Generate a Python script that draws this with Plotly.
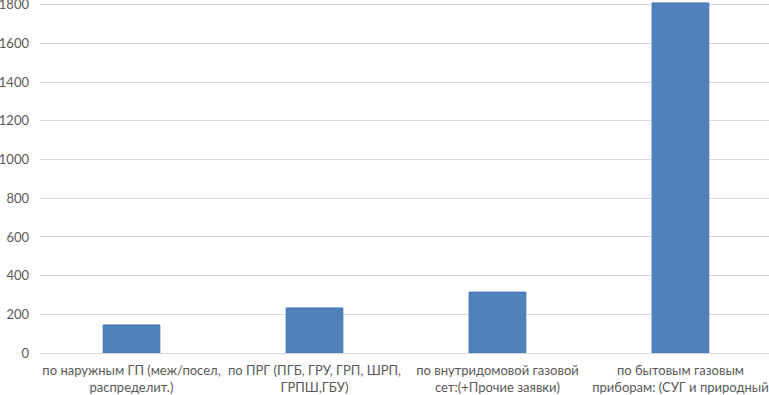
import plotly.graph_objects as go

categories = [
    "по наружным ГП (меж/посел,<br>распределит.)",
    "по ПРГ (ПГБ, ГРУ, ГРП, ШРП,<br>ГРПШ,ГБУ)",
    "по внутридомовой газовой<br>сет:(+Прочие заявки)",
    "по бытовым газовым<br>приборам: (СУГ и природный",
]
values = [145, 233, 315, 1810]
y_ticks = [0, 200, 400, 600, 800, 1000, 1200, 1400, 1600, 1800]

fig = go.Figure(
    go.Bar(
        x=list(range(len(categories))),
        y=values,
        width=0.31,
        marker=dict(color="#4f81bd", line=dict(color="#4676b0", width=1)),
        cliponaxis=False,
    )
)

fig.update_layout(
    width=769,
    height=395,
    margin=dict(l=40, r=0, t=1, b=42),
    paper_bgcolor="white",
    plot_bgcolor="white",
    showlegend=False,
    font=dict(family="Lato, 'Open Sans', sans-serif", size=13, color="#595959"),
)
fig.update_xaxes(
    range=[-0.5, 3.484],
    tickmode="array",
    tickvals=list(range(len(categories))),
    ticktext=categories,
    showgrid=False,
    showline=False,
    ticks="",
    automargin=False,
    tickangle=0,
    ticklabelstandoff=8,
    ticklabeloverflow="allow",
)
fig.update_yaxes(
    range=[0, 1820],
    tickmode="array",
    tickvals=y_ticks,
    ticktext=[str(v) for v in y_ticks],
    showgrid=True,
    gridcolor="#d9d9d9",
    gridwidth=1,
    zeroline=True,
    zerolinecolor="#d9d9d9",
    zerolinewidth=1,
    showline=False,
    ticks="",
    ticklabelstandoff=10,
    ticklabeloverflow="allow",
    automargin=False,
)

fig.write_html(
    "out.html",
    config={"displayModeBar": False},
    post_script="document.body.style.margin='0';document.body.style.padding='0';",
)
